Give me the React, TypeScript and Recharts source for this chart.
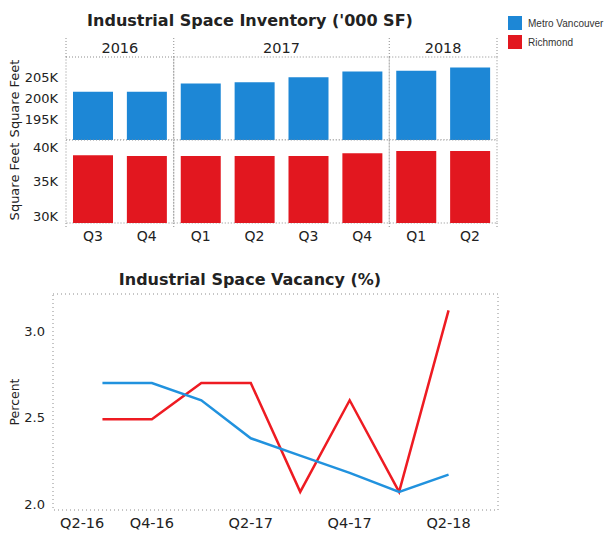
import { BarChart, Bar, LineChart, Line, XAxis, YAxis, ReferenceArea, ReferenceLine } from 'recharts';

// inventory, '000 SF
const PERIODS = ['Q3-16', 'Q4-16', 'Q1-17', 'Q2-17', 'Q3-17', 'Q4-17', 'Q1-18', 'Q2-18'];
const PERIOD_YEARS = ['2016', '2016', '2017', '2017', '2017', '2017', '2018', '2018'];
const YEARS = ['2016', '2017', '2018'];
const METRO_INVENTORY = [201600, 201600, 203600, 203900, 205100, 206500, 206700, 207500];
const RICHMOND_INVENTORY = [38800, 38700, 38700, 38700, 38700, 39100, 39400, 39400];
const METRO_TICKS = [195000, 200000, 205000];
const RICHMOND_TICKS = [30000, 35000, 40000];

// vacancy, %
const QUARTER_AXIS = ['Q2-16', 'Q3-16', 'Q4-16', 'Q1-17', 'Q2-17', 'Q3-17', 'Q4-17', 'Q1-18', 'Q2-18', 'Q3-18'];
const VACANCY_TICK_LABELS = ['Q2-16', 'Q4-16', 'Q2-17', 'Q4-17', 'Q2-18'];
const METRO_VACANCY = [2.7, 2.7, 2.6, 2.38, 2.28, 2.18, 2.07, 2.17];
const RICHMOND_VACANCY = [2.49, 2.49, 2.7, 2.7, 2.07, 2.6, 2.07, 3.12];
const VACANCY_TICKS = [2.0, 2.5, 3.0];
const VACANCY_DOMAIN = [1.965, 3.215];

const SERIES = ['Metro Vancouver', 'Richmond'];
const BLUE = '#1d87d6';
const RED = '#e2171f';
const LINE_BLUE = '#2192de';
const LINE_RED = '#ee1b22';
const GRID = '#8c8c8c';

const inventoryData = PERIODS.map((p, i) => ({
    period: p,
    metro: METRO_INVENTORY[i],
    richmond: RICHMOND_INVENTORY[i],
}));

const groups = YEARS.map((y) => {
    const list = PERIODS.filter((_, i) => PERIOD_YEARS[i] === y);
    return { year: y, from: list[0], to: list[list.length - 1] };
});

const vacancyData = PERIODS.map((p, i) => ({
    idx: QUARTER_AXIS.indexOf(p),
    metro: METRO_VACANCY[i],
    richmond: RICHMOND_VACANCY[i],
}));
const vacancyTicks = VACANCY_TICK_LABELS.map((l) => QUARTER_AXIS.indexOf(l));

const kFormat = (v: number) => `${Math.round(v / 1000)}K`;
const quarterOnly = (p: string) => p.split('-')[0];

const tickStyle = { fontSize: 13, fill: '#222' };

// first label is pushed inside so it is not cut by the left edge
const VacancyTick = ({ x, y, payload, index }: { x: number; y: number; payload: { value: number }; index: number }) => {
    const first = index === 0;
    return (
        <text x={first ? x + 7 : x} y={y} dy="0.71em" textAnchor={first ? 'start' : 'middle'} fontSize={14.5} fill="#222">
            {QUARTER_AXIS[payload.value]}
        </text>
    );
};

const GroupFrames = ({ lo, hi, extLo, extHi }: { lo: number; hi: number; extLo: number; extHi: number }) => (
    <>
        {groups.map((g) => (
            <ReferenceArea
                key={`a-${g.year}`}
                x1={g.from}
                x2={g.to}
                y1={lo}
                y2={hi}
                fill="none"
                stroke={GRID}
                strokeDasharray="1 2"
                ifOverflow="visible"
            />
        ))}
        {groups.map((g) => (
            <ReferenceLine
                key={`l-${g.year}`}
                segment={[{ x: g.from, y: extLo }, { x: g.from, y: extHi }]}
                position="start"
                stroke={GRID}
                strokeDasharray="1 2"
                ifOverflow="visible"
            />
        ))}
        <ReferenceLine
            segment={[{ x: groups[groups.length - 1].to, y: extLo }, { x: groups[groups.length - 1].to, y: extHi }]}
            position="end"
            stroke={GRID}
            strokeDasharray="1 2"
            ifOverflow="visible"
        />
    </>
);

export default function App() {
    return (
        <div style={{ position: 'relative', width: 610, height: 535, fontFamily: '"DejaVu Sans", Verdana, sans-serif', background: '#fff', overflow: 'hidden' }}>
            <style>{'body{margin:0}'}</style>

            <div style={{ position: 'absolute', left: 50, top: 11, width: 400, textAlign: 'center', fontSize: 16, fontWeight: 'bold', color: '#222' }}>
                Industrial Space Inventory ('000 SF)
            </div>
            <div style={{ position: 'absolute', left: 50, top: 270, width: 400, textAlign: 'center', fontSize: 16, fontWeight: 'bold', color: '#222' }}>
                Industrial Space Vacancy (%)
            </div>

            <div style={{ position: 'absolute', left: 508, top: 16, fontFamily: '"Liberation Sans", Arial, sans-serif', fontSize: 10, color: '#333' }}>
                {SERIES.map((s, i) => (
                    <div key={s} style={{ display: 'flex', alignItems: 'center', height: 14, marginBottom: 5 }}>
                        <span style={{ width: 14, height: 14, background: i === 0 ? BLUE : RED, marginRight: 6 }} />
                        <span>{s}</span>
                    </div>
                ))}
            </div>

            {/* Metro Vancouver panel */}
            <div style={{ position: 'absolute', left: 0, top: 0 }}>
                <BarChart width={610} height={140} data={inventoryData} margin={{ top: 57, right: 113, bottom: 0, left: 0 }} barCategoryGap={7}>
                    <XAxis dataKey="period" hide />
                    <YAxis
                        width={66}
                        domain={[190000, 210000]}
                        ticks={METRO_TICKS}
                        interval={0}
                        tickFormatter={kFormat}
                        axisLine={false}
                        tickLine={false}
                        tick={tickStyle}
                        label={{ value: 'Square Feet', angle: -90, position: 'insideLeft', offset: 14, style: { textAnchor: 'middle', fontSize: 13, fill: '#222' } }}
                    />
                    <GroupFrames lo={190000} hi={210000} extLo={210000} extHi={215000} />
                    {groups.map((g) => (
                        <ReferenceArea
                            key={`y-${g.year}`}
                            x1={g.from}
                            x2={g.to}
                            y1={210000}
                            y2={210000}
                            fill="none"
                            stroke="none"
                            ifOverflow="visible"
                            label={{ value: g.year, position: 'top', offset: 4, fontSize: 14.5, fill: '#222' }}
                        />
                    ))}
                    <Bar dataKey="metro" name={SERIES[0]} fill={BLUE} isAnimationActive={false} />
                </BarChart>
            </div>

            {/* Richmond panel */}
            <div style={{ position: 'absolute', left: 0, top: 0 }}>
                <BarChart width={610} height={255} data={inventoryData} margin={{ top: 140, right: 113, bottom: 2, left: 0 }} barCategoryGap={7}>
                    <XAxis dataKey="period" height={30} tickFormatter={quarterOnly} axisLine={false} tickLine={false} tick={{ fontSize: 14, fill: '#222' }} interval={0} />
                    <YAxis
                        width={66}
                        domain={[29000, 41000]}
                        ticks={RICHMOND_TICKS}
                        interval={0}
                        tickFormatter={kFormat}
                        axisLine={false}
                        tickLine={false}
                        tick={tickStyle}
                        label={{ value: 'Square Feet', angle: -90, position: 'insideLeft', offset: 14, style: { textAnchor: 'middle', fontSize: 13, fill: '#222' } }}
                    />
                    <GroupFrames lo={29000} hi={41000} extLo={29000} extHi={28200} />
                    <Bar dataKey="richmond" name={SERIES[1]} fill={RED} isAnimationActive={false} />
                </BarChart>
            </div>

            {/* vacancy */}
            <div style={{ position: 'absolute', left: 0, top: 0 }}>
                <LineChart width={610} height={535} data={vacancyData} margin={{ top: 294, right: 112, bottom: 0, left: 0 }}>
                    <XAxis
                        dataKey="idx"
                        type="number"
                        domain={[0, QUARTER_AXIS.length - 1]}
                        ticks={vacancyTicks}
                        height={25}
                        axisLine={false}
                        tickLine={false}
                        tick={VacancyTick}
                        interval={0}
                    />
                    <YAxis
                        width={53}
                        domain={VACANCY_DOMAIN}
                        ticks={VACANCY_TICKS}
                        interval={0}
                        tickFormatter={(v: number) => v.toFixed(1)}
                        axisLine={false}
                        tickLine={false}
                        tick={tickStyle}
                        label={{ value: 'Percent', angle: -90, position: 'insideLeft', offset: 15, style: { textAnchor: 'middle', fontSize: 12.5, fill: '#222' } }}
                    />
                    <ReferenceArea
                        x1={0}
                        x2={QUARTER_AXIS.length - 1}
                        y1={VACANCY_DOMAIN[0]}
                        y2={VACANCY_DOMAIN[1]}
                        fill="none"
                        stroke={GRID}
                        strokeDasharray="1 3"
                        ifOverflow="visible"
                    />
                    <Line type="linear" dataKey="richmond" name={SERIES[1]} stroke={LINE_RED} strokeWidth={2.5} dot={false} isAnimationActive={false} />
                    <Line type="linear" dataKey="metro" name={SERIES[0]} stroke={LINE_BLUE} strokeWidth={2.5} dot={false} isAnimationActive={false} />
                </LineChart>
            </div>
        </div>
    );
}
